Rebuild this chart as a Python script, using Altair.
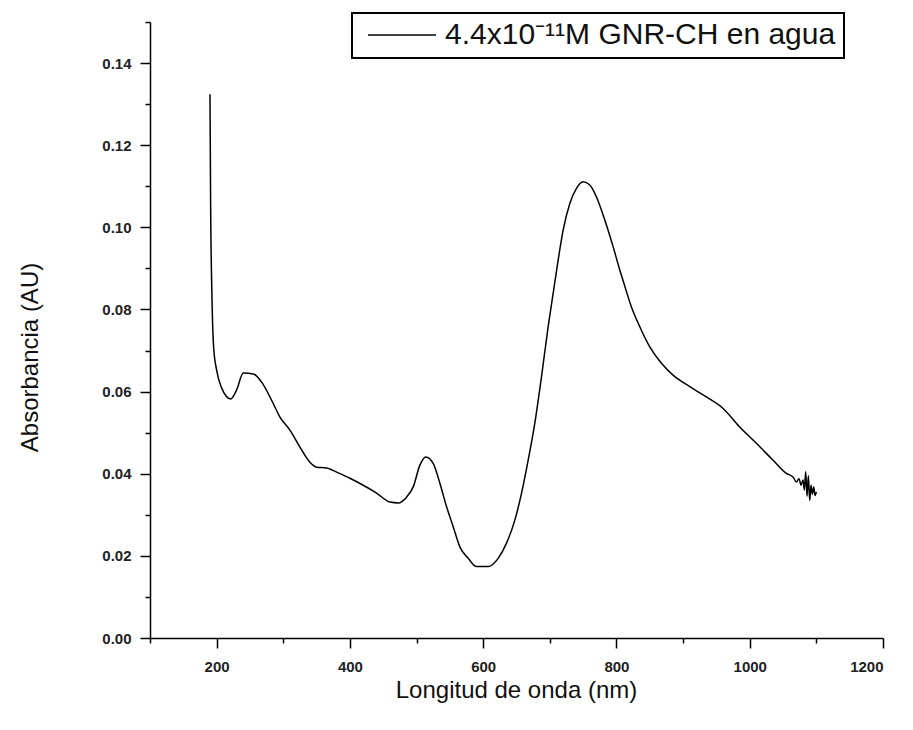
import altair as alt
import pandas as pd

series_label = "4.4x10⁻¹¹M GNR-CH en agua"

wavelength = [190, 191, 193, 195.5, 200, 207.5, 221, 230, 240, 255, 267.5, 282.5, 295, 310,
              325, 340, 350, 365, 382.5, 400, 420, 440, 460, 472.5, 485, 495, 505, 514, 525,
              535, 545, 555, 565, 577.5, 590, 607.5, 622.5, 635, 647.5, 657.5, 667.5, 677.5,
              687.5, 697.5, 705, 712.5, 720, 730, 740, 750, 760, 770, 782.5, 795, 805, 810,
              822.5, 835, 850, 867.5, 885, 910, 935, 960, 985, 1010, 1035, 1055, 1065, 1070,
              1074, 1077, 1080, 1082, 1084, 1086, 1088, 1090, 1092, 1094, 1096, 1098, 1100]
absorbance = [0.1324, 0.1054, 0.0830, 0.0708, 0.0652, 0.0609, 0.0582, 0.0604, 0.0645, 0.0643,
              0.0623, 0.0579, 0.0538, 0.0506, 0.0465, 0.0428, 0.0416, 0.0414, 0.0402, 0.0389,
              0.0372, 0.0353, 0.0331, 0.0329, 0.0343, 0.0368, 0.0421, 0.0441, 0.0425, 0.0377,
              0.0320, 0.0271, 0.0222, 0.0194, 0.0174, 0.0174, 0.0194, 0.0231, 0.0287, 0.0352,
              0.0433, 0.0523, 0.0636, 0.0758, 0.0839, 0.0920, 0.0993, 0.1058, 0.1095, 0.1111,
              0.1103, 0.1074, 0.1018, 0.0953, 0.0896, 0.0870, 0.0806, 0.0758, 0.0709, 0.0669,
              0.0640, 0.0612, 0.0587, 0.0559, 0.0514, 0.0474, 0.0433, 0.0401, 0.0392, 0.0380,
              0.0388, 0.0372, 0.0385, 0.0360, 0.0405, 0.0345, 0.0395, 0.0335, 0.0372, 0.0350,
              0.0368, 0.0347, 0.0356]

x_major = [200, 400, 600, 800, 1000, 1200]
x_minor = [100, 300, 500, 700, 900, 1100]
y_major = [0.00, 0.02, 0.04, 0.06, 0.08, 0.10, 0.12, 0.14]
y_minor = [0.01, 0.03, 0.05, 0.07, 0.09, 0.11, 0.13, 0.15]

df = pd.DataFrame({"wl": wavelength, "abs": absorbance, "serie": series_label})

FONT = "Liberation Sans"
xscale = alt.Scale(domain=[100, 1200], nice=False, zero=False)
yscale = alt.Scale(domain=[0, 0.15], nice=False, zero=False)

major_x_axis = alt.Axis(
    orient="bottom", values=x_major, format="d", grid=False, domain=True, domainColor="black",
    domainWidth=1.5, ticks=True, tickColor="black", tickSize=10, tickWidth=1.5,
    labelFont=FONT, labelFontSize=15, labelFontWeight="bold", labelColor="#222222",
    labelPadding=11,
    title="Longitud de onda (nm)", titleFont=FONT, titleFontSize=24, titleFontWeight="normal",
    titleColor="#111111", titleX=366, titleY=52, titleAlign="center", titleBaseline="middle",
)
major_y_axis = alt.Axis(
    orient="left", values=y_major, format=".2f", grid=False, domain=True, domainColor="black",
    domainWidth=1.5, ticks=True, tickColor="black", tickSize=10, tickWidth=1.5,
    labelFont=FONT, labelFontSize=15, labelFontWeight="bold", labelColor="#222222",
    labelPadding=9,
    title="Absorbancia (AU)", titleFont=FONT, titleFontSize=24, titleFontWeight="normal",
    titleColor="#111111", titleX=-120, titleY=335, titleAlign="center", titleBaseline="middle",
    titleAngle=-90,
)
minor_x_axis = alt.Axis(orient="bottom", values=x_minor, grid=False, domain=False, labels=False,
                        tickColor="black", tickSize=5, tickWidth=1.5, title=None)
minor_y_axis = alt.Axis(orient="left", values=y_minor, grid=False, domain=False, labels=False,
                        tickColor="black", tickSize=5, tickWidth=1.5, title=None)

line = alt.Chart(df).mark_line(strokeWidth=1.5, interpolate="monotone").encode(
    x=alt.X("wl:Q", scale=xscale, axis=major_x_axis),
    y=alt.Y("abs:Q", scale=yscale, axis=major_y_axis),
    color=alt.Color("serie:N", scale=alt.Scale(domain=[series_label], range=["black"]),
                    legend=alt.Legend(
                        title=None, orient="none", legendX=202, legendY=-9,
                        symbolType="stroke", symbolSize=4624, symbolStrokeWidth=1.5,
                        symbolOffset=7, labelFont=FONT, labelFontSize=30, labelColor="#111111",
                        labelOffset=8, labelLimit=600, padding=8, clipHeight=28,
                        strokeColor="black", fillColor="white", cornerRadius=0)),
)

minor = alt.Chart(df).mark_line(opacity=0).encode(
    x=alt.X("wl:Q", scale=xscale, axis=minor_x_axis),
    y=alt.Y("abs:Q", scale=yscale, axis=minor_y_axis),
)

chart = alt.layer(line, minor).resolve_axis(x="independent", y="independent").properties(
    width=733, height=616,
    autosize=alt.AutoSizeParams(type="none"),
    padding={"left": 142, "top": 14, "right": 20, "bottom": 70},
    background="white",
).configure_view(stroke=None).configure_legend(strokeWidth=2)

chart.save("out.html", embed_options={"renderer": "svg", "actions": False})
